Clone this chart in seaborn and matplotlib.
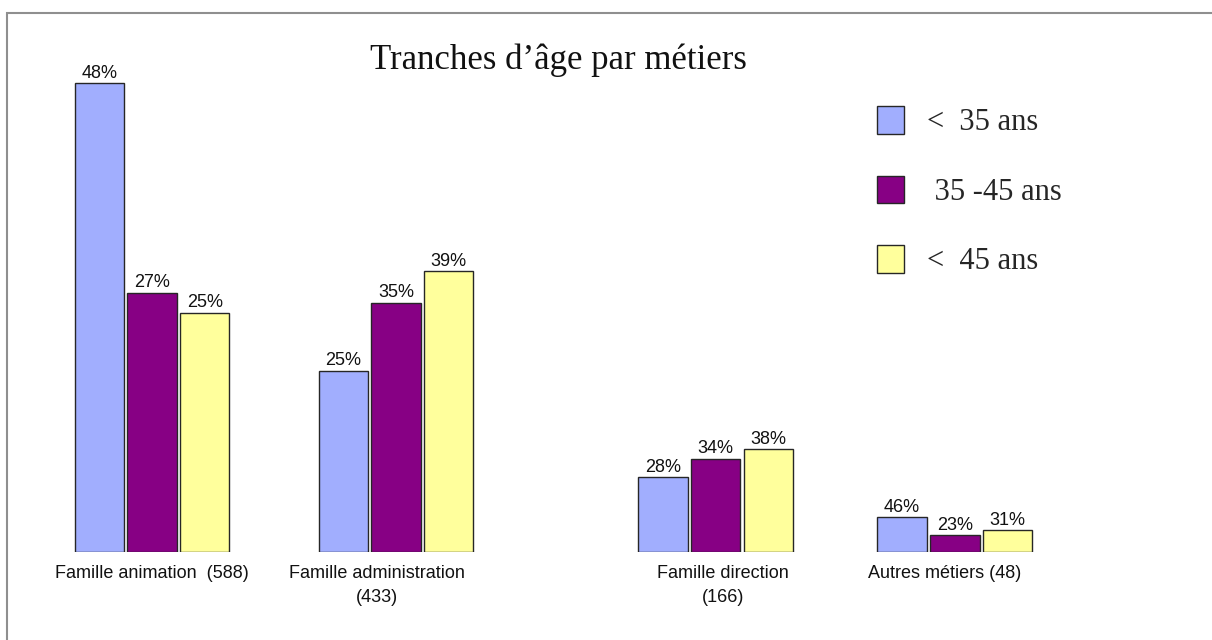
import matplotlib
matplotlib.use("Agg")
import matplotlib.pyplot as plt
from matplotlib.patches import Rectangle
import pandas as pd
import seaborn as sns

# Data (bar heights are head counts, labels are shares)
metiers = [
    "Famille animation  (588)",
    "Famille administration\n(433)",
    "Famille direction\n(166)",
    "Autres métiers (48)",
]
tranches = ["<  35 ans", " 35 -45 ans", "<  45 ans"]
effectif_moins_35 = [282, 109, 45, 21]
effectif_35_45 = [156, 150, 56, 10]
effectif_plus_45 = [144, 169, 62, 13]
pct_moins_35 = ["48%", "25%", "28%", "46%"]
pct_35_45 = ["27%", "35%", "34%", "23%"]
pct_plus_45 = ["25%", "39%", "38%", "31%"]

# Layout: the groups are not evenly spaced in the original
group_pos = [0.0, 1.0, 2.31, 3.29]
label_pos = [0.0, 0.92, 2.34, 3.25]
colors = ["#A1AEFE", "#870084", "#FFFF9C"]

W, H = 1212, 640
df = pd.DataFrame(
    {
        "pos": group_pos * 3,
        "tranche": [tranches[0]] * 4 + [tranches[1]] * 4 + [tranches[2]] * 4,
        "effectif": effectif_moins_35 + effectif_35_45 + effectif_plus_45,
    }
)

sns.set_style("white")
narrow = ["Liberation Sans Narrow", "DejaVu Sans Condensed", "Liberation Sans"]
serif = ["Liberation Serif", "DejaVu Serif"]

fig = plt.figure(figsize=(W / 100, H / 100), dpi=100)
fig.patch.set_facecolor("white")
ax = fig.add_axes([0, 1 - 552 / H, 1, (552 - 30) / H])

sns.barplot(
    data=df,
    x="pos",
    y="effectif",
    hue="tranche",
    hue_order=tranches,
    palette=colors,
    native_scale=True,
    width=0.661,
    gap=0.06,
    errorbar=None,
    edgecolor="#262626",
    linewidth=1.0,
    saturation=1,
    ax=ax,
)

for cont, labels in zip(ax.containers, [pct_moins_35, pct_35_45, pct_plus_45]):
    ax.bar_label(cont, labels=labels, padding=1, fontsize=13, family=narrow, color="#111111")

ax.set_xlim(-152 / 244, (W - 152) / 244)
ax.set_ylim(0, 522 / 1.663)
ax.set_xticks(label_pos)
ax.set_xticklabels(metiers, fontsize=13, family=narrow, color="#111111", linespacing=1.55)
ax.tick_params(axis="x", length=0, pad=9)
ax.set_yticks([])
ax.set_xlabel("")
ax.set_ylabel("")
for side in ["top", "right", "left", "bottom"]:
    ax.spines[side].set_visible(False)
ax.patch.set_alpha(0)

# Legend on the right
handles, labels = ax.get_legend_handles_labels()
ax.get_legend().remove()
fig.legend(
    handles,
    labels,
    loc="upper left",
    bbox_to_anchor=(877 / W, 1 - 106 / H),
    frameon=False,
    prop={"family": serif, "size": 22},
    handlelength=0.88,
    handleheight=1.02,
    handletextpad=0.75,
    labelspacing=1.25,
    borderpad=0,
    borderaxespad=0,
)

fig.text(558 / W, 1 - 60 / H, "Tranches d’âge par métiers", ha="center", va="center",
         fontsize=25, family=serif, color="#111111")

# Grey frame around the chart
fig.patches.append(
    Rectangle((7 / W, -0.2), 1.2, 1 - 13 / H + 0.2, transform=fig.transFigure,
              fill=False, edgecolor="#8f8f8f", linewidth=1.5)
)

fig.savefig("out.png", dpi=100)
